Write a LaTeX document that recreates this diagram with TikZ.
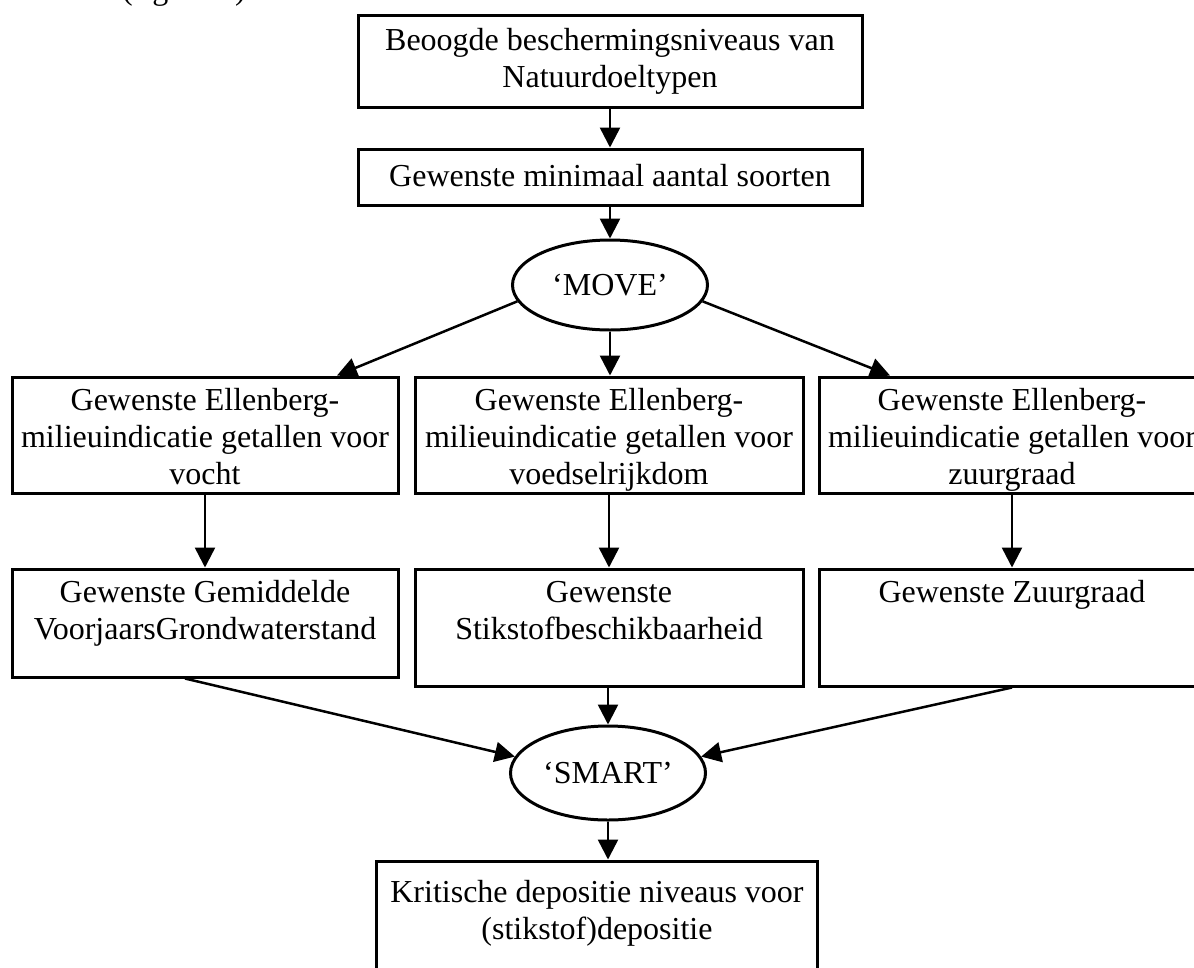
\documentclass[tikz,border=0pt]{standalone}
\usepackage{fontspec}
\setmainfont{Liberation Serif}
\usetikzlibrary{shapes.geometric,arrows.meta}

% box text, top aligned: [pad]{height}{width}{lines}
\newcommand{\boxlines}[4][8pt]{\parbox[c][#2][t]{#3}{\centering\vspace*{#1}\strut#4}}

\begin{document}
\begin{tikzpicture}[x=1pt,y=-1pt,
    font=\fontsize{32pt}{37pt}\selectfont,
    box/.style={draw, line width=3pt, inner sep=0pt},
    ell/.style={draw, ellipse, line width=3pt, inner sep=0pt,
      minimum width=195pt, minimum height=90pt},
    arr/.style={-{Triangle[length=20pt,width=20pt]}, line width=2.5pt}]
    \useasboundingbox (0,0) rectangle (1194,967);
    \clip (0,0) rectangle (1194,967);

    \node[anchor=base west, inner sep=0pt] (fig) at (122,-1) {(figuur 1)};

    \node[box] (ndt) at (610,61)
      {\boxlines[10pt]{92pt}{504pt}{Beoogde beschermingsniveaus van\\Natuurdoeltypen}};
    \node[box] (soorten) at (610,177)
      {\boxlines[12pt]{56pt}{504pt}{Gewenste minimaal aantal soorten}};
    \node[ell] (move) at (610,285) {‘MOVE’};

    % Ellenberg getallen
    \node[box] (vocht) at (205,435)
      {\boxlines{116pt}{386pt}{Gewenste Ellenberg-\\milieuindicatie getallen voor\\vocht}};
    \node[box] (voedsel) at (609,435)
      {\boxlines{116pt}{388pt}{Gewenste Ellenberg-\\milieuindicatie getallen voor\\voedselrijkdom}};
    \node[box] (zuur) at (1012,435)
      {\boxlines{116pt}{386pt}{Gewenste Ellenberg-\\milieuindicatie getallen voor\\zuurgraad}};

    % standplaatsfactoren
    \node[box] (gvg) at (205,623)
      {\boxlines{108pt}{386pt}{Gewenste Gemiddelde\\VoorjaarsGrondwaterstand}};
    \node[box] (stikstof) at (609,627.5)
      {\boxlines{117pt}{388pt}{Gewenste\\Stikstofbeschikbaarheid}};
    \node[box] (zuurgraad) at (1012,627.5)
      {\boxlines{117pt}{386pt}{Gewenste Zuurgraad}};

    \node[ell, minimum height=94pt] (smart) at (608,773) {‘SMART’};
    \node[box] (kdn) at (597,931)
      {\boxlines[16pt]{140pt}{441pt}{Kritische depositie niveaus voor\\(stikstof)depositie}};

    \draw[arr] (ndt) -- (soorten);
    \draw[arr] (soorten) -- (move);
    \draw[arr] (move.190) -- ([xshift=132pt]vocht.north);
    \draw[arr] (move.south) -- (move.south |- voedsel.north);
    \draw[arr] (move.-10) -- ([xshift=-122pt]zuur.north);

    \draw[arr] (vocht) -- (gvg);
    \draw[arr] (voedsel) -- (stikstof);
    \draw[arr] (zuur) -- (zuurgraad);

    \draw[arr] ([xshift=-20pt]gvg.south) -- (smart.170);
    \draw[arr] (stikstof.south -| smart.north) -- (smart.north);
    \draw[arr] (zuurgraad.south) -- (smart.10);
    \draw[arr] (smart.south) -- (smart.south |- kdn.north);
  \end{tikzpicture}
\end{document}
